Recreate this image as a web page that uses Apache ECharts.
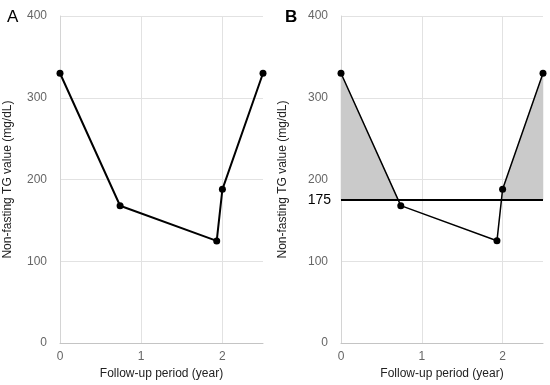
<!DOCTYPE html>
<html>
<head>
<meta charset="utf-8">
<script src="https://cdn.jsdelivr.net/npm/echarts@6/dist/echarts.min.js"></script>
<style>html,body{margin:0;padding:0;background:#fff}#c{width:550px;height:385px}</style>
</head>
<body>
<div id="c"></div>
<script>
// Data
var years = [0, 0.74, 1.93, 2.0, 2.5];
var tgValues = [330, 168, 125, 188, 330];
var threshold = 175;
var yTicks = [0, 100, 200, 300, 400];
var xTicks = [0, 1, 2];
var panelLabels = ['A', 'B'];
var xName = 'Follow-up period (year)';
var yName = 'Non-fasting TG value (mg/dL)';

var pts = years.map(function (x, i) { return [x, tgValues[i]]; });
var FONT = '"Liberation Sans", Arial, Helvetica, sans-serif';

function xAxis(gi) {
  return {
    type: 'value', gridIndex: gi, min: 0, max: 2.5, interval: 1,
    name: xName, nameLocation: 'middle', nameGap: 23,
    nameTextStyle: { color: '#222', fontSize: 12, fontFamily: FONT },
    axisLine: { show: true, lineStyle: { color: '#c4c4c4', width: 1 } },
    axisTick: { show: false },
    axisLabel: { color: '#666', fontSize: 12, fontFamily: FONT, margin: 8, showMaxLabel: false,
      formatter: function (v) { return xTicks.indexOf(v) >= 0 ? String(v) : ''; } },
    splitLine: { show: true, showMaxLine: false, lineStyle: { color: '#e2e2e2', width: 1 } }
  };
}
function yAxis(gi, gap) {
  return {
    type: 'value', gridIndex: gi, min: 0, max: 400, interval: 100,
    name: yName, nameLocation: 'middle', nameGap: gap,
    nameTextStyle: { color: '#222', fontSize: 12, fontFamily: FONT },
    axisLine: { show: true, lineStyle: { color: '#d4d4d4', width: 1 } },
    axisTick: { show: false },
    axisLabel: { color: '#666', fontSize: 12, fontFamily: FONT, margin: 13,
      formatter: function (v) { return yTicks.indexOf(v) >= 0 ? String(v) : ''; } },
    splitLine: { show: true, lineStyle: { color: '#e2e2e2', width: 1 } }
  };
}

// Shade the part of each segment lying above the threshold
function renderShade(params, api) {
  var i = params.dataIndex;
  if (i >= pts.length - 1) return null;
  var x0 = pts[i][0], y0 = pts[i][1], x1 = pts[i + 1][0], y1 = pts[i + 1][1];
  var t = threshold, poly = null;
  if (y0 >= t && y1 >= t) {
    poly = [[x0, t], [x0, y0], [x1, y1], [x1, t]];
  } else if (y0 > t && y1 < t) {
    var xc = x0 + (t - y0) / (y1 - y0) * (x1 - x0);
    poly = [[x0, t], [x0, y0], [xc, t]];
  } else if (y0 < t && y1 > t) {
    var xc2 = x0 + (t - y0) / (y1 - y0) * (x1 - x0);
    poly = [[xc2, t], [x1, y1], [x1, t]];
  }
  if (!poly) return null;
  return {
    type: 'polygon',
    shape: { points: poly.map(function (p) { return api.coord(p); }) },
    style: { fill: '#cacaca', stroke: '#cacaca', lineWidth: 0.5 }
  };
}

var chart = echarts.init(document.getElementById('c'), null, { renderer: 'canvas' });
chart.setOption({
  animation: false,
  backgroundColor: '#fff',
  grid: [
    { left: 60, right: 287, top: 16, bottom: 41 },
    { left: 341, right: 7, top: 16, bottom: 42 }
  ],
  xAxis: [xAxis(0), xAxis(1)],
  yAxis: [yAxis(0, 46), yAxis(1, 52)],
  graphic: [
    { type: 'text', left: 7, top: 9, style: { text: panelLabels[0], fontSize: 17, fontFamily: FONT, fill: '#000' } },
    { type: 'text', left: 285, top: 9, style: { text: panelLabels[1], fontSize: 17, fontWeight: 'bold', fontFamily: FONT, fill: '#000' } }
  ],
  series: [
    {
      type: 'line', xAxisIndex: 0, yAxisIndex: 0, data: pts,
      symbol: 'circle', symbolSize: 7,
      lineStyle: { color: '#000', width: 2 }, itemStyle: { color: '#000' }, z: 5
    },
    {
      type: 'custom', xAxisIndex: 1, yAxisIndex: 1, data: pts,
      renderItem: renderShade, silent: true, z: 2,
      encode: { x: 0, y: 1 }
    },
    {
      type: 'line', xAxisIndex: 1, yAxisIndex: 1, data: pts,
      symbol: 'circle', symbolSize: 7,
      lineStyle: { color: '#000', width: 1.5 }, itemStyle: { color: '#000' }, z: 5,
      markLine: {
        silent: true, symbol: ['none', 'none'],
        lineStyle: { color: '#000', width: 2, type: 'solid' },
        label: { show: true, position: 'start', distance: 10, formatter: String(threshold),
          color: '#000', fontSize: 14, fontFamily: FONT },
        data: [{ yAxis: threshold }]
      }
    }
  ]
});
</script>
</body>
</html>
